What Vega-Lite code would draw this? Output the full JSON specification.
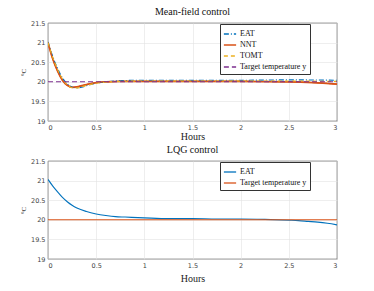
{
  "$schema": "https://vega.github.io/schema/vega-lite/v6.json",
  "autosize": {"type": "pad"},
  "padding": {"left": 19, "top": 6, "right": 5, "bottom": 5},
  "spacing": 40,
  "bounds": "flush",
  "resolve": {"scale": {"color": "independent", "strokeDash": "independent"}, "legend": {"color": "independent", "strokeDash": "independent"}},
  "config": {
    "view": {"stroke": "#262626", "strokeWidth": 0.7},
    "axis": {
      "grid": true, "gridColor": "#e3e3e3", "gridWidth": 0.6,
      "ticks": false, "domain": false, "format": "~g",
      "labelFont": "DejaVu Sans", "labelFontSize": 6.5, "labelColor": "#444444",
      "titleFont": "Liberation Serif", "titleFontWeight": "normal", "titleColor": "#222222"
    },
    "title": {"font": "Liberation Serif", "fontWeight": "normal", "fontSize": 10, "color": "#111111", "offset": 3},
    "legend": {
      "labelFont": "Liberation Serif", "labelFontSize": 8, "labelColor": "#111111",
      "strokeColor": "#333333", "fillColor": "white", "padding": 3,
      "symbolType": "stroke", "symbolSize": 150, "symbolStrokeWidth": 1.3, "rowPadding": 0, "labelOffset": 3
    }
  },
  "datasets": {
    "mf": [
      {"t": 0, "s": "EAT", "v": 21.02}, {"t": 0.05, "s": "EAT", "v": 20.64}, {"t": 0.1, "s": "EAT", "v": 20.34}, {"t": 0.15, "s": "EAT", "v": 20.1}, {"t": 0.2, "s": "EAT", "v": 19.95}, {"t": 0.25, "s": "EAT", "v": 19.87}, {"t": 0.3, "s": "EAT", "v": 19.84}, {"t": 0.35, "s": "EAT", "v": 19.86}, {"t": 0.4, "s": "EAT", "v": 19.9}, {"t": 0.5, "s": "EAT", "v": 19.96}, {"t": 0.6, "s": "EAT", "v": 20.0}, {"t": 0.75, "s": "EAT", "v": 20.03}, {"t": 1.0, "s": "EAT", "v": 20.04}, {"t": 1.5, "s": "EAT", "v": 20.04}, {"t": 2.0, "s": "EAT", "v": 20.04}, {"t": 2.5, "s": "EAT", "v": 20.05}, {"t": 3.0, "s": "EAT", "v": 20.04},
      {"t": 0, "s": "NNT", "v": 21.0}, {"t": 0.05, "s": "NNT", "v": 20.58}, {"t": 0.1, "s": "NNT", "v": 20.27}, {"t": 0.15, "s": "NNT", "v": 20.04}, {"t": 0.2, "s": "NNT", "v": 19.91}, {"t": 0.25, "s": "NNT", "v": 19.86}, {"t": 0.3, "s": "NNT", "v": 19.87}, {"t": 0.35, "s": "NNT", "v": 19.9}, {"t": 0.4, "s": "NNT", "v": 19.93}, {"t": 0.5, "s": "NNT", "v": 19.98}, {"t": 0.6, "s": "NNT", "v": 20.0}, {"t": 0.75, "s": "NNT", "v": 20.01}, {"t": 1.0, "s": "NNT", "v": 20.01}, {"t": 1.5, "s": "NNT", "v": 20.01}, {"t": 2.0, "s": "NNT", "v": 20.01}, {"t": 2.5, "s": "NNT", "v": 20.0}, {"t": 2.75, "s": "NNT", "v": 19.98}, {"t": 3.0, "s": "NNT", "v": 19.94},
      {"t": 0, "s": "TOMT", "v": 21.0}, {"t": 0.05, "s": "TOMT", "v": 20.62}, {"t": 0.1, "s": "TOMT", "v": 20.31}, {"t": 0.15, "s": "TOMT", "v": 20.07}, {"t": 0.2, "s": "TOMT", "v": 19.92}, {"t": 0.25, "s": "TOMT", "v": 19.85}, {"t": 0.3, "s": "TOMT", "v": 19.84}, {"t": 0.35, "s": "TOMT", "v": 19.87}, {"t": 0.4, "s": "TOMT", "v": 19.91}, {"t": 0.5, "s": "TOMT", "v": 19.96}, {"t": 0.6, "s": "TOMT", "v": 19.99}, {"t": 0.75, "s": "TOMT", "v": 20.01}, {"t": 1.0, "s": "TOMT", "v": 20.02}, {"t": 1.5, "s": "TOMT", "v": 20.02}, {"t": 2.0, "s": "TOMT", "v": 20.02}, {"t": 2.5, "s": "TOMT", "v": 20.02}, {"t": 3.0, "s": "TOMT", "v": 20.01},
      {"t": 0, "s": "Target temperature y", "v": 20.0}, {"t": 3.0, "s": "Target temperature y", "v": 20.0}
    ],
    "lqg": [
      {"t": 0, "s": "EAT", "v": 21.03}, {"t": 0.05, "s": "EAT", "v": 20.86}, {"t": 0.1, "s": "EAT", "v": 20.71}, {"t": 0.15, "s": "EAT", "v": 20.57}, {"t": 0.2, "s": "EAT", "v": 20.46}, {"t": 0.25, "s": "EAT", "v": 20.37}, {"t": 0.3, "s": "EAT", "v": 20.3}, {"t": 0.4, "s": "EAT", "v": 20.21}, {"t": 0.5, "s": "EAT", "v": 20.15}, {"t": 0.6, "s": "EAT", "v": 20.11}, {"t": 0.7, "s": "EAT", "v": 20.08}, {"t": 0.8, "s": "EAT", "v": 20.07}, {"t": 1.0, "s": "EAT", "v": 20.05}, {"t": 1.25, "s": "EAT", "v": 20.03}, {"t": 1.5, "s": "EAT", "v": 20.03}, {"t": 1.75, "s": "EAT", "v": 20.02}, {"t": 2.0, "s": "EAT", "v": 20.02}, {"t": 2.25, "s": "EAT", "v": 20.01}, {"t": 2.5, "s": "EAT", "v": 19.99}, {"t": 2.6, "s": "EAT", "v": 19.98}, {"t": 2.7, "s": "EAT", "v": 19.96}, {"t": 2.8, "s": "EAT", "v": 19.94}, {"t": 2.9, "s": "EAT", "v": 19.91}, {"t": 3.0, "s": "EAT", "v": 19.87},
      {"t": 0, "s": "Target temperature y", "v": 20.0}, {"t": 3.0, "s": "Target temperature y", "v": 20.0}
    ]
  },
  "vconcat": [
    {
      "title": "Mean-field control",
      "width": 289, "height": 98,
      "data": {"name": "mf"},
      "encoding": {
        "x": {"field": "t", "type": "quantitative", "scale": {"domain": [0, 3], "nice": false}, "axis": {"values": [0, 0.5, 1, 1.5, 2, 2.5, 3], "title": "Hours", "titleFontSize": 10, "titlePadding": 1, "labelPadding": 3}},
        "y": {"field": "v", "type": "quantitative", "scale": {"domain": [19, 21.5], "nice": false, "zero": false}, "axis": {"values": [19, 19.5, 20, 20.5, 21, 21.5], "title": "°C", "titleFontSize": 7, "titlePadding": 4, "labelPadding": 3}},
        "order": {"field": "t"}
      },
      "layer": [
        {
          "transform": [{"filter": "datum.s === 'NNT'"}],
          "mark": {"type": "line", "interpolate": "monotone", "clip": true, "strokeWidth": 1.8, "color": "#D95319"}
        },
        {
          "mark": {"type": "line", "interpolate": "monotone", "clip": true, "strokeWidth": 1.1},
          "encoding": {
            "color": {"field": "s", "type": "nominal", "scale": {"domain": ["EAT", "NNT", "TOMT", "Target temperature y"], "range": ["#0072BD", "#D95319", "#EDB120", "#7E2F8E"]}, "legend": {"title": null, "orient": "none", "legendX": 172, "legendY": 1}},
            "strokeDash": {"field": "s", "type": "nominal", "scale": {"domain": ["EAT", "NNT", "TOMT", "Target temperature y"], "range": [[5, 2, 1, 2], [1, 0], [4, 3], [5, 3]]}, "legend": {"title": null, "orient": "none", "legendX": 172, "legendY": 1}}
          }
        }
      ]
    },
    {
      "title": "LQG control",
      "width": 289, "height": 98,
      "data": {"name": "lqg"},
      "mark": {"type": "line", "interpolate": "monotone", "clip": true, "strokeWidth": 1.1},
      "encoding": {
        "x": {"field": "t", "type": "quantitative", "scale": {"domain": [0, 3], "nice": false}, "axis": {"values": [0, 0.5, 1, 1.5, 2, 2.5, 3], "title": "Hours", "titleFontSize": 10, "titlePadding": 5, "labelPadding": 3}},
        "y": {"field": "v", "type": "quantitative", "scale": {"domain": [19, 21.5], "nice": false, "zero": false}, "axis": {"values": [19, 19.5, 20, 20.5, 21, 21.5], "title": "°C", "titleFontSize": 7, "titlePadding": 4, "labelPadding": 3}},
        "color": {"field": "s", "type": "nominal", "scale": {"domain": ["EAT", "Target temperature y"], "range": ["#0072BD", "#D95319"]}, "legend": {"title": null, "orient": "none", "legendX": 172, "legendY": 1}},
        "order": {"field": "t"}
      }
    }
  ]
}
